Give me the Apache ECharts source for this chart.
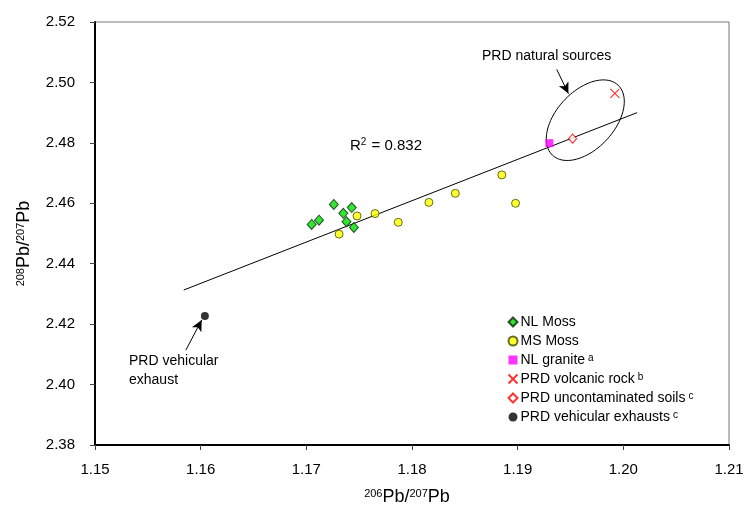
<!DOCTYPE html>
<html lang="en">
<head>
  <meta charset="UTF-8">
  <title>Pb isotope ratios</title>
  <style>
    #container, html, body {
      margin: 0;
      padding: 0;
      height: 100%;
      width: 100%;
      background: #fff;
    }
  </style>
</head>
<body>
  <div id="container"></div>
</body>
<script src="https://cdn.jsdelivr.net/npm/echarts@6/dist/echarts.min.js"></script>
<script>
  // 206Pb/207Pb (x) and 208Pb/207Pb (y) for each group
  var nlMossX = [1.1705, 1.1712, 1.1726, 1.1735, 1.1738, 1.1743, 1.1745]
  var nlMossY = [2.4530, 2.4544, 2.4596, 2.4567, 2.4539, 2.4586, 2.4520]
  var msMossX = [1.1731, 1.1748, 1.1765, 1.1787, 1.1816, 1.1841, 1.1885, 1.1898]
  var msMossY = [2.4498, 2.4558, 2.4566, 2.4537, 2.4603, 2.4633, 2.4694, 2.4600]
  var graniteX = [1.1930]
  var graniteY = [2.4799]
  var volcanicX = [1.1992]
  var volcanicY = [2.4964]
  var soilsX = [1.1952]
  var soilsY = [2.4814]
  var exhaustX = [1.1604]
  var exhaustY = [2.4227]
  // regression line ends
  var fitX = [1.1584, 1.2013]
  var fitY = [2.4313, 2.4900]
  // ellipse round the natural sources (centre)
  var ellipseCenter = [1.1964, 2.4875]
  // annotation arrows [from, to]
  var arrowNatural = [[1.1937, 2.5043], [1.1948, 2.4963]]
  var arrowExhaust = [[1.1586, 2.4114], [1.1601, 2.4214]]

  var seriesNames = ['NL Moss', 'MS Moss', 'NL granite', 'PRD volcanic rock', 'PRD uncontaminated soils', 'PRD vehicular exhausts']
  var superscripts = {'NL granite': 'a', 'PRD volcanic rock': 'b', 'PRD uncontaminated soils': 'c', 'PRD vehicular exhausts': 'c'}

  var FONT = '"Liberation Sans", Arial, sans-serif'

  function pairs (xs, ys) {
    return xs.map(function (x, i) { return [x, ys[i]] })
  }

  var charts = echarts.init(document.querySelector('#container'))
  var option = {
    animation: false,
    textStyle: {fontFamily: FONT, color: '#000'},
    grid: {
      left: 95, right: 19, top: 22, bottom: 69,
      show: true, borderColor: '#777', borderWidth: 1
    },
    legend: {
      data: seriesNames,
      orient: 'vertical',
      left: 501,
      top: 310,
      itemWidth: 9,
      itemHeight: 9,
      itemGap: 5,
      formatter: function (name) {
        return superscripts[name] ? name + '{sup|' + superscripts[name] + '}' : name
      },
      textStyle: {
        fontFamily: FONT, fontSize: 14, color: '#000', lineHeight: 14, padding: [0, 0, 0, -2],
        rich: {sup: {fontFamily: FONT, fontSize: 10, verticalAlign: 'top', lineHeight: 10, padding: [0, 0, 4, 3]}}
      }
    },
    xAxis: {
      type: 'value',
      min: 1.15, max: 1.21, interval: 0.01,
      name: '{sup|206}Pb/{sup|207}Pb',
      nameLocation: 'middle',
      nameGap: 43,
      nameTextStyle: {
        fontFamily: FONT, fontSize: 18, color: '#000', padding: [0, 10, 0, 0],
        rich: {sup: {fontFamily: FONT, fontSize: 11, padding: [0, 0, 8, 0]}}
      },
      axisLine: {lineStyle: {color: '#000', width: 2}},
      axisTick: {inside: false, length: 5, lineStyle: {color: '#444'}},
      axisLabel: {fontFamily: FONT, fontSize: 15, color: '#000', margin: 17, formatter: function (v) { return v.toFixed(2) }},
      splitLine: {show: false}
    },
    yAxis: {
      type: 'value',
      min: 2.38, max: 2.52, interval: 0.02,
      name: '{sup|208}Pb/{sup|207}Pb',
      nameLocation: 'middle',
      nameGap: 61,
      nameRotate: 90,
      nameTextStyle: {
        fontFamily: FONT, fontSize: 18, color: '#000', padding: [0, 20, 0, 0],
        rich: {sup: {fontFamily: FONT, fontSize: 11, padding: [0, 0, 8, 0]}}
      },
      axisLine: {lineStyle: {color: '#000', width: 2}},
      axisTick: {inside: false, length: 5, lineStyle: {color: '#444'}},
      axisLabel: {fontFamily: FONT, fontSize: 15, color: '#000', margin: 20, formatter: function (v) { return v.toFixed(2) }},
      splitLine: {show: false}
    },
    graphic: [
      {type: 'text', left: 350, top: 137, style: {text: 'R{sup|2} = 0.832', font: '15px ' + FONT, fill: '#000',
        rich: {sup: {fontSize: 10, fontFamily: FONT, padding: [0, 1, 8, 0]}}}},
      {type: 'text', left: 482, top: 49, style: {text: 'PRD natural sources', font: '14px ' + FONT, fill: '#000'}},
      {type: 'text', left: 129, top: 352, style: {text: 'PRD vehicular\nexhaust', font: '14px ' + FONT, fill: '#000', lineHeight: 19}}
    ],
    series: [
      {
        name: 'fit',
        type: 'line',
        data: pairs(fitX, fitY),
        symbol: 'none',
        lineStyle: {color: '#000', width: 1},
        silent: true,
        z: 1,
        markLine: {
          silent: true,
          symbol: ['none', 'arrow'],
          symbolSize: [8, 11],
          label: {show: false},
          lineStyle: {color: '#000', width: 1, type: 'solid'},
          data: [
            [{coord: arrowNatural[0]}, {coord: arrowNatural[1]}],
            [{coord: arrowExhaust[0]}, {coord: arrowExhaust[1]}]
          ]
        }
      },
      {
        name: 'ellipse',
        type: 'custom',
        data: [ellipseCenter],
        silent: true,
        z: 1,
        renderItem: function (params, api) {
          var c = api.coord([api.value(0), api.value(1)])
          var a = 48, b = 29, th = 47 * Math.PI / 180
          var pts = []
          for (var i = 0; i < 90; i++) {
            var t = i / 90 * Math.PI * 2
            pts.push([
              c[0] + a * Math.cos(t) * Math.cos(th) - b * Math.sin(t) * Math.sin(th),
              c[1] - (a * Math.cos(t) * Math.sin(th) + b * Math.sin(t) * Math.cos(th))
            ])
          }
          return {type: 'polygon', shape: {points: pts}, style: {fill: 'none', stroke: '#000', lineWidth: 1}}
        }
      },
      {
        name: 'NL Moss', type: 'scatter', data: pairs(nlMossX, nlMossY),
        symbol: 'diamond', symbolSize: [9, 10],
        itemStyle: {color: '#00dd00', borderColor: '#0a2a0a', borderWidth: 1}, z: 3
      },
      {
        name: 'MS Moss', type: 'scatter', data: pairs(msMossX, msMossY),
        symbol: 'circle', symbolSize: 8,
        itemStyle: {color: '#ffff00', borderColor: '#3f4a00', borderWidth: 1}, z: 3
      },
      {
        name: 'NL granite', type: 'scatter', data: pairs(graniteX, graniteY),
        symbol: 'rect', symbolSize: 8,
        itemStyle: {color: '#ff00ff'}, z: 3
      },
      {
        name: 'PRD volcanic rock', type: 'scatter', data: pairs(volcanicX, volcanicY),
        symbol: 'path://M0,0L10,10M10,0L0,10', symbolSize: 9,
        itemStyle: {color: 'none', borderColor: '#ff0000', borderWidth: 1.2}, z: 3
      },
      {
        name: 'PRD uncontaminated soils', type: 'scatter', data: pairs(soilsX, soilsY),
        symbol: 'diamond', symbolSize: [8, 9],
        itemStyle: {color: '#fff', borderColor: '#ff0000', borderWidth: 1.2}, z: 3
      },
      {
        name: 'PRD vehicular exhausts', type: 'scatter', data: pairs(exhaustX, exhaustY),
        symbol: 'circle', symbolSize: 8,
        itemStyle: {color: '#000'}, z: 3
      }
    ]
  }
  charts.setOption(option)
  window.onresize = charts.resize
</script>
</html>
